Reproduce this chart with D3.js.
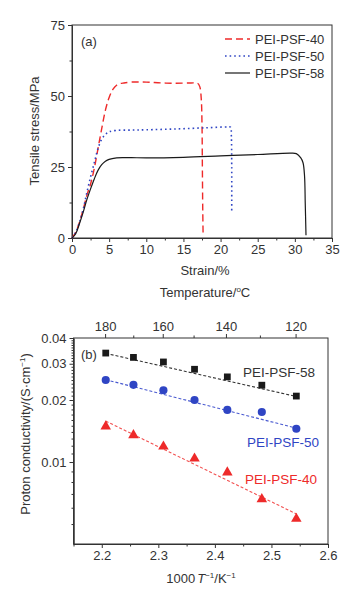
<!DOCTYPE html>
<html>
<head>
<meta charset="utf-8">
<script src="https://cdn.jsdelivr.net/npm/d3@7"></script>
<style>
  body { margin: 0; background: #fff; }
  svg { display: block; font-family: "Liberation Sans", Arial, sans-serif; }
  .axis path, .axis line { stroke: #333; }
  .axis text { fill: #333; font-size: 13px; }
</style>
</head>
<body>
<svg width="360" height="600"></svg>
<script>
// panel (a): tensile curves (strain %, stress MPa)
var strain40 = [0, 0.5, 1, 1.5, 2, 2.5, 3, 3.5, 4, 4.5, 5, 5.5, 6, 6.5, 7, 8, 10, 12, 14, 16, 16.9, 17.2, 17.4, 17.5, 17.55, 17.6, 17.65];
var stress40 = [0, 2, 5.5, 10, 15, 19, 24.5, 31.5, 38.5, 45, 49.5, 52.3, 53.8, 54.4, 54.6, 54.9, 54.9, 54.6, 54.5, 54.6, 54.5, 53.3, 49, 40, 25, 10, 1];

var strain50 = [0, 0.5, 1, 1.5, 2, 2.5, 3, 3.5, 4, 4.5, 5, 6, 8, 10, 14, 18, 21, 21.35, 21.45, 21.5, 21.5];
var stress50 = [0, 2, 5.5, 10, 16, 21.5, 26.5, 31.5, 34.8, 36.5, 37.4, 37.9, 38, 38.1, 38.4, 38.8, 39.1, 39, 36, 25, 8.7];

var strain58 = [0, 0.5, 1, 1.5, 2, 2.5, 3, 3.5, 4, 4.5, 5, 6, 7, 8, 10, 15, 20, 25, 29.5, 30.2, 30.8, 31.1, 31.3, 31.4, 31.5];
var stress58 = [0, 1.5, 5, 9, 13.5, 17.3, 20.8, 23.8, 25.8, 27, 27.7, 28.2, 28.3, 28.3, 28.2, 28.4, 28.9, 29.4, 29.9, 29.7, 28.2, 26.5, 22, 12, 1];

var seriesNames = ["PEI-PSF-40", "PEI-PSF-50", "PEI-PSF-58"];
var strainTicks = [0, 5, 10, 15, 20, 25, 30, 35];
var stressTicks = [0, 25, 50, 75];

// panel (b): conductivity vs 1000/T
var tempC = [180, 170, 160, 150, 140, 130, 120];
var invT = [2.207, 2.256, 2.309, 2.364, 2.422, 2.483, 2.544];
var cond58 = [0.0338, 0.0322, 0.0306, 0.0282, 0.0259, 0.0236, 0.0209];
var cond50 = [0.0250, 0.0237, 0.0223, 0.0200, 0.0179, 0.0175, 0.0145];
var cond40 = [0.0149, 0.0135, 0.0119, 0.0104, 0.0089, 0.0066, 0.0053];
// dashed fit lines, ends
var fit58 = [0.0337, 0.0208];
var fit50 = [0.0251, 0.0146];
var fit40 = [0.0158, 0.0056];
var invTTicks = [2.2, 2.3, 2.4, 2.5, 2.6];
var tempTicks = [180, 160, 140, 120];
var condTicks = [0.01, 0.02, 0.03, 0.04];

var red = "#ee2a2a", blue = "#2f45c4", black = "#1a1a1a";

var svg = d3.select("svg");

/* Panel (a)
------------------------------------------------------------------ */
var xa = d3.scaleLinear().domain([0, 35]).range([72, 332]);
var ya = d3.scaleLinear().domain([0, 75]).range([238, 25]);

var ga = svg.append("g");

ga.append("g").attr("class", "axis")
    .attr("transform", "translate(0,238)")
    .call(d3.axisBottom(xa).tickValues(strainTicks).tickSize(4).tickPadding(3).tickSizeOuter(0));
ga.append("g").attr("class", "axis")
    .attr("transform", "translate(0,238)")
    .call(d3.axisBottom(xa).tickValues(d3.range(2.5, 35, 5)).tickSize(2.5).tickFormat("").tickSizeOuter(0));
ga.append("g").attr("class", "axis")
    .attr("transform", "translate(72,0)")
    .call(d3.axisLeft(ya).tickValues(stressTicks).tickSize(4).tickPadding(3).tickSizeOuter(0));
ga.append("g").attr("class", "axis")
    .attr("transform", "translate(72,0)")
    .call(d3.axisLeft(ya).tickValues(d3.range(12.5, 75, 25)).tickSize(2.5).tickFormat("").tickSizeOuter(0));

ga.append("rect")
    .attr("x", xa(0)).attr("y", ya(75))
    .attr("width", xa(35) - xa(0)).attr("height", ya(0) - ya(75))
    .attr("fill", "none").attr("stroke", "#333");

var lineA = d3.line()
    .x(function(d) { return xa(d[0]); })
    .y(function(d) { return ya(d[1]); })
    .curve(d3.curveCatmullRom.alpha(0.5));

var curvesA = [
    { x: strain40, y: stress40, color: red, dash: "7,4", w: 1.4 },
    { x: strain50, y: stress50, color: blue, dash: "1.6,3", w: 1.6 },
    { x: strain58, y: stress58, color: black, dash: null, w: 1.2 }
];

curvesA.forEach(function(c) {
    var pts = c.x.map(function(v, i) { return [v, c.y[i]]; });
    ga.append("path")
        .datum(pts)
        .attr("fill", "none")
        .attr("stroke", c.color)
        .attr("stroke-width", c.w)
        .attr("stroke-dasharray", c.dash)
        .attr("d", lineA);
});

// legend
curvesA.forEach(function(c, i) {
    var ly = 39 + i * 17;
    ga.append("line")
        .attr("x1", 225).attr("x2", 250).attr("y1", ly).attr("y2", ly)
        .attr("stroke", c.color).attr("stroke-width", c.w)
        .attr("stroke-dasharray", c.dash);
    ga.append("text")
        .attr("x", 255).attr("y", ly + 4.5)
        .attr("font-size", 13).attr("fill", "#333")
        .text(seriesNames[i]);
});

ga.append("text").attr("x", 81).attr("y", 45.5)
    .attr("font-size", 13).attr("fill", "#333").text("(a)");

ga.append("text")
    .attr("transform", "translate(39,131) rotate(-90)")
    .attr("text-anchor", "middle").attr("font-size", 13).attr("fill", "#333")
    .text("Tensile stress/MPa");

ga.append("text")
    .attr("x", 205).attr("y", 275)
    .attr("text-anchor", "middle").attr("font-size", 13).attr("fill", "#333")
    .text("Strain/%");

/* Panel (b)
------------------------------------------------------------------ */
var xb = d3.scaleLinear().domain([2.15, 2.6]).range([73.5, 328]);
var yb = d3.scaleLog().domain([0.004, 0.04]).range([544, 338]);
var topB = yb(0.04), bottomB = yb(0.004);

var gb = svg.append("g");

var tTitle = gb.append("text")
    .attr("x", 205).attr("y", 297)
    .attr("text-anchor", "middle").attr("font-size", 13).attr("fill", "#333");
tTitle.append("tspan").text("Temperature/");
tTitle.append("tspan").attr("font-size", 8).attr("dy", -5).text("o");
tTitle.append("tspan").attr("dy", 5).text("C");

gb.append("g").attr("class", "axis")
    .attr("transform", "translate(0," + bottomB + ")")
    .call(d3.axisBottom(xb).tickValues(invTTicks).tickSize(4).tickPadding(3)
        .tickFormat(d3.format(".1f")).tickSizeOuter(0));
gb.append("g").attr("class", "axis")
    .attr("transform", "translate(0," + bottomB + ")")
    .call(d3.axisBottom(xb).tickValues([2.15, 2.25, 2.35, 2.45, 2.55]).tickSize(2.5).tickFormat("").tickSizeOuter(0));

// top temperature axis placed at 1000/(T+273.15)
var xTop = function(t) { return xb(1000 / (t + 273.15)); };
var topAxis = gb.append("g").attr("class", "axis")
    .attr("transform", "translate(0," + topB + ")");
tempC.forEach(function(t) {
    var major = tempTicks.indexOf(t) >= 0;
    topAxis.append("line")
        .attr("x1", xTop(t)).attr("x2", xTop(t))
        .attr("y1", 0).attr("y2", major ? -4 : -2.5);
    if (major) {
        topAxis.append("text")
            .attr("x", xTop(t)).attr("y", -7)
            .attr("text-anchor", "middle").text(t);
    }
});

gb.append("g").attr("class", "axis")
    .attr("transform", "translate(73.5,0)")
    .call(d3.axisLeft(yb).tickValues(condTicks).tickSize(4).tickPadding(3)
        .tickFormat(d3.format(".2f")).tickSizeOuter(0));
var minorB = d3.range(5, 10).map(function(d) { return d / 1000; })
    .concat(d3.range(11, 40).filter(function(d) { return d % 10; }).map(function(d) { return d / 1000; }));
gb.append("g").attr("class", "axis")
    .attr("transform", "translate(73.5,0)")
    .call(d3.axisLeft(yb).tickValues(minorB).tickSize(2).tickFormat("").tickSizeOuter(0));

gb.append("rect")
    .attr("x", xb(2.15)).attr("y", topB)
    .attr("width", xb(2.6) - xb(2.15)).attr("height", bottomB - topB)
    .attr("fill", "none").attr("stroke", "#333");

var seriesB = [
    { v: cond58, fit: fit58, color: black, fitColor: "#333", sym: d3.symbolSquare, size: 46, name: "PEI-PSF-58", lx: 243, ly: 377 },
    { v: cond50, fit: fit50, color: blue, fitColor: "#4a5ad0", sym: d3.symbolCircle, size: 52, name: "PEI-PSF-50", lx: 247, ly: 447 },
    { v: cond40, fit: fit40, color: red, fitColor: "#f25050", sym: d3.symbolTriangle, size: 48, name: "PEI-PSF-40", lx: 245, ly: 483.5 }
];

var lineB = d3.line()
    .x(function(d) { return xb(d[0]); })
    .y(function(d) { return yb(d[1]); });

seriesB.forEach(function(s) {
    gb.append("path")
        .datum([[invT[0], s.fit[0]], [invT[invT.length - 1], s.fit[1]]])
        .attr("fill", "none")
        .attr("stroke", s.fitColor)
        .attr("stroke-width", 1.1)
        .attr("stroke-dasharray", "3,2")
        .attr("d", lineB);

    gb.selectAll(null)
        .data(s.v)
        .enter().append("path")
        .attr("transform", function(d, i) { return "translate(" + xb(invT[i]) + "," + yb(d) + ")"; })
        .attr("d", d3.symbol().type(s.sym).size(s.size))
        .attr("fill", s.color);

    gb.append("text")
        .attr("x", s.lx).attr("y", s.ly)
        .attr("font-size", 13.5)
        .attr("fill", s.color === black ? "#333" : s.color)
        .text(s.name);
});

gb.append("text").attr("x", 81).attr("y", 359)
    .attr("font-size", 13).attr("fill", "#333").text("(b)");

var yTitle = gb.append("text")
    .attr("transform", "translate(30,434) rotate(-90)")
    .attr("text-anchor", "middle").attr("font-size", 13).attr("fill", "#333");
yTitle.append("tspan").text("Proton conductivity/(S\u00b7cm");
yTitle.append("tspan").attr("font-size", 8).attr("dy", -5).text("\u22121");
yTitle.append("tspan").attr("dy", 5).text(")");

var xTitle = gb.append("text")
    .attr("x", 201).attr("y", 583)
    .attr("text-anchor", "middle").attr("font-size", 13).attr("fill", "#333");
xTitle.append("tspan").text("1000");
xTitle.append("tspan").attr("font-style", "italic").attr("dx", 2).text("T");
xTitle.append("tspan").attr("font-size", 8).attr("dy", -5).text("\u22121");
xTitle.append("tspan").attr("dy", 5).text("/K");
xTitle.append("tspan").attr("font-size", 8).attr("dy", -5).text("\u22121");
</script>
</body>
</html>
